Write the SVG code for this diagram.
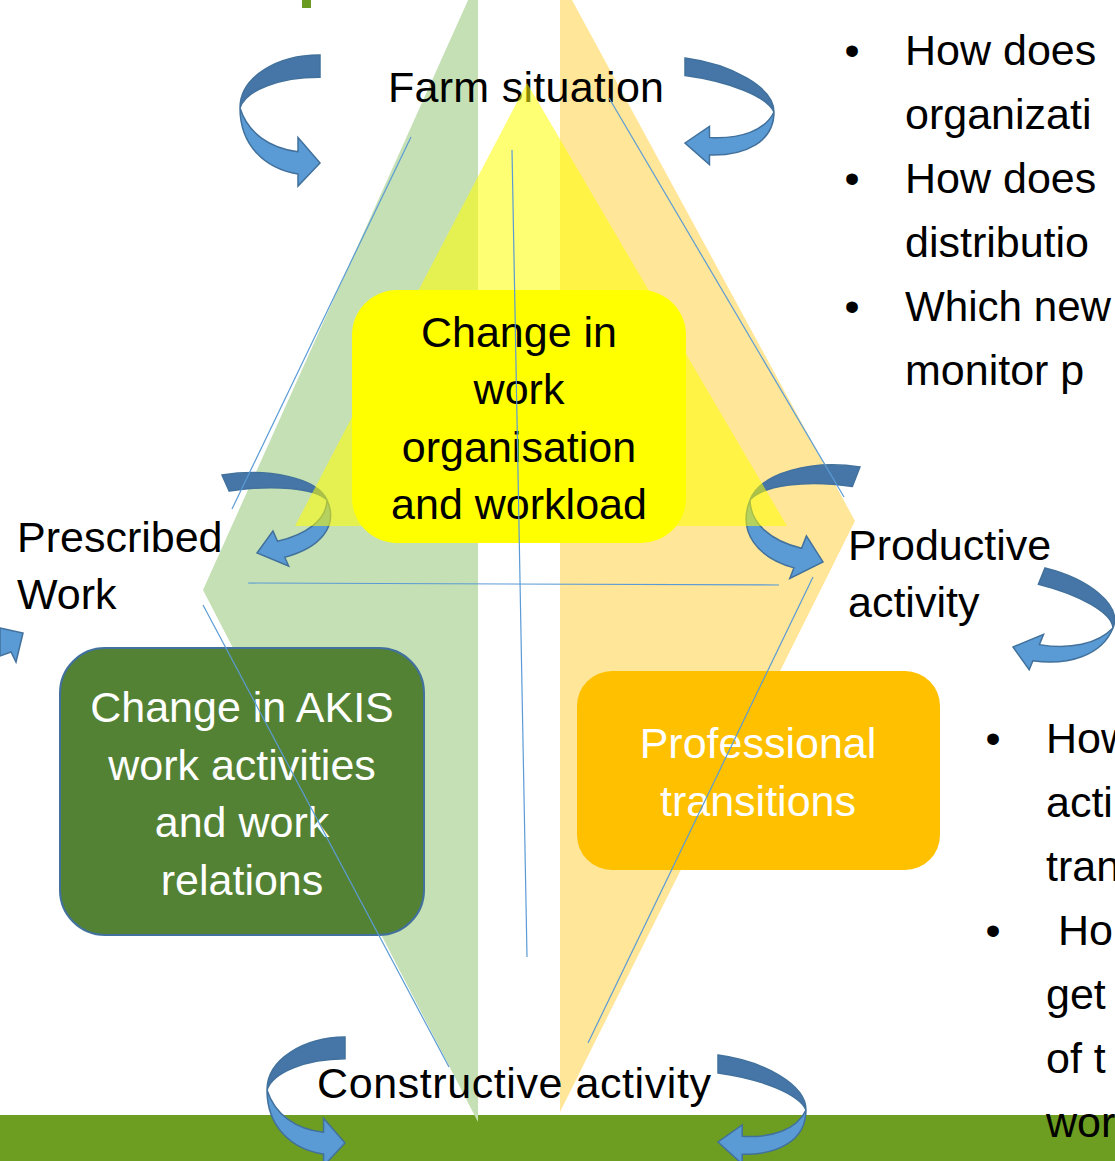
<svg xmlns="http://www.w3.org/2000/svg" xmlns:xlink="http://www.w3.org/1999/xlink" width="1115" height="1161" viewBox="0 0 1115 1161">
<style>
.t{font-family:"Liberation Sans",Arial,sans-serif;font-size:43px;fill:#000}
.w{fill:#fff}
.m{text-anchor:middle}
.ln{stroke:#5B9BD5;stroke-width:1.2;fill:none}
.dk{fill:#4676A8;stroke:#41719C;stroke-width:1.5;vector-effect:non-scaling-stroke;stroke-linejoin:miter}
.lt{fill:#5B9BD5;stroke:#41719C;stroke-width:1.5;vector-effect:non-scaling-stroke;stroke-linejoin:miter}
</style>
<defs>
<g id="ca">
<path class="dk" d="M80,0 C38,0 0,22 0,53 C6,35 40,22 80,22 Z"/>
<path class="lt" d="M0,53 C0,90 25,113 58,118 L58,130 L80,107 L58,82 L58,96 C30,93 8,78 0,53 Z"/>
</g>
</defs>
<rect width="1115" height="1161" fill="#fff"/>
<rect x="302" y="0" width="9" height="8" fill="#6A9A1F"/>
<rect x="0" y="1115" width="1115" height="46" fill="#6E9E21"/>
<g id="green-side"><polygon points="478,-22 203,590 478,1122" fill="#C5E0B4"/></g>
<g id="orange-side"><polygon points="560,-22 855,521 560,1112" fill="#FFE699"/></g>
<g id="farm-situation"><text class="t" x="388" y="102" textLength="276">Farm situation</text></g>
<g id="prescribed-work"><text class="t" x="17" y="552">Prescribed</text><text class="t" x="17" y="609">Work</text></g>
<g id="productive-activity"><text class="t" x="848" y="560">Productive</text><text class="t" x="848" y="617">activity</text></g>
<g id="constructive-activity"><text class="t" x="317" y="1098" textLength="394">Constructive activity</text></g>
<g id="questions-top">
<text class="t m" x="852" y="65">•</text><text class="t" x="905" y="65">How does</text>
<text class="t" x="905" y="129">organizati</text>
<text class="t m" x="852" y="193">•</text><text class="t" x="905" y="193">How does</text>
<text class="t" x="905" y="257">distributio</text>
<text class="t m" x="852" y="321">•</text><text class="t" x="905" y="321" textLength="206" lengthAdjust="spacingAndGlyphs">Which new</text>
<text class="t" x="905" y="385">monitor p</text>
</g>
<g id="questions-bottom">
<text class="t m" x="993" y="753">•</text><text class="t" x="1046" y="753">How</text>
<text class="t" x="1046" y="817">acti</text>
<text class="t" x="1046" y="881">tran</text>
<text class="t m" x="993" y="945">•</text><text class="t" x="1058" y="945">Ho</text>
<text class="t" x="1046" y="1009">get</text>
<text class="t" x="1046" y="1073">of t</text>
<text class="t" x="1046" y="1137">wor</text>
</g>
<g id="connectors">
<use xlink:href="#ca" transform="matrix(1,0.0062,0,1.0093,240,54.5)"/>
<use xlink:href="#ca" transform="matrix(-1.1125,-0.1487,0,0.794,774,69.9)"/>
<use xlink:href="#ca" transform="matrix(-1.0958,0.1704,0.327,0.729,309.7,461.4)"/>
<use xlink:href="#ca" transform="matrix(1.1459,0.1757,-0.3458,0.8879,768.3,452.9)"/>
<use xlink:href="#ca" transform="matrix(-1.0481,-0.2609,-0.299,0.7383,1128.85,588.87)"/>
<use xlink:href="#ca" transform="matrix(0.975,-0.0062,0,0.9907,267,1037.5)"/>
<use xlink:href="#ca" transform="matrix(-1.1,-0.1488,0,0.8131,806,1066.9)"/>
<path class="lt" d="M0,628 L23,633 L16,662 L11,652 L0,656 Z"/>
</g>
<g id="yellow-triangle"><polygon points="527,83 295,526 787,526" fill="#FFFF00" fill-opacity="0.55"/></g>
<g id="node-work-organisation">
<rect x="352" y="290" width="334" height="253" rx="45" fill="#FFFF00"/>
<text class="t m" x="519" y="347">Change in</text>
<text class="t m" x="519" y="404">work</text>
<text class="t m" x="519" y="462">organisation</text>
<text class="t m" x="519" y="519">and workload</text>
</g>
<g id="node-akis">
<rect x="60" y="648" width="364" height="287" rx="45" fill="#548235" stroke="#41719C" stroke-width="2"/>
<text class="t w m" x="242" y="722">Change in AKIS</text>
<text class="t w m" x="242" y="780">work activities</text>
<text class="t w m" x="242" y="837">and work</text>
<text class="t w m" x="242" y="895">relations</text>
</g>
<g id="node-professional">
<rect x="577" y="671" width="363" height="199" rx="35" fill="#FFC000"/>
<text class="t w m" x="758" y="758">Professional</text>
<text class="t w m" x="758" y="816">transitions</text>
</g>
<g id="guide-lines">
<line class="ln" x1="411" y1="137" x2="232" y2="509"/>
<line class="ln" x1="203" y1="605" x2="449" y2="1067"/>
<line class="ln" x1="248" y1="583" x2="779" y2="585"/>
<line class="ln" x1="512" y1="150" x2="527" y2="957"/>
<line class="ln" x1="609" y1="98" x2="844" y2="497"/>
<line class="ln" x1="813" y1="577" x2="588" y2="1043"/>
</g>
</svg>
